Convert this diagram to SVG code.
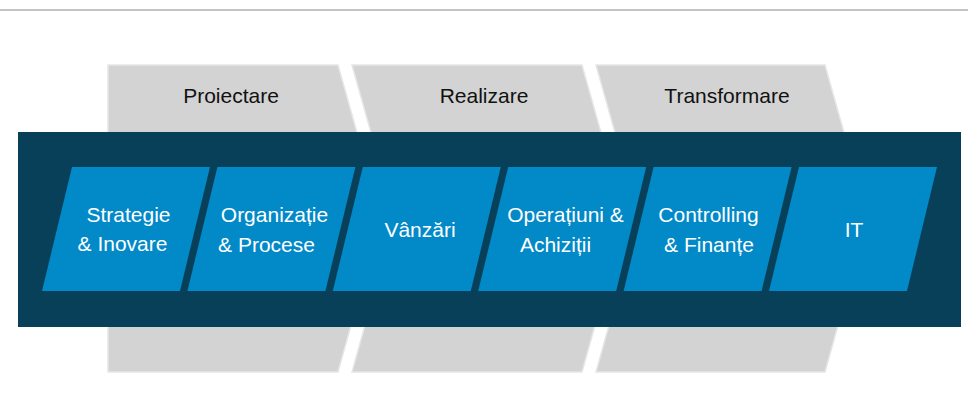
<svg xmlns="http://www.w3.org/2000/svg" width="968" height="420" viewBox="0 0 968 420">
<style>
.phase{fill:#d3d3d3;stroke:#e6e6e6;stroke-width:1.5}
.ptxt{font-family:"Liberation Sans",Arial,sans-serif;font-size:21px;fill:#111;text-anchor:middle}
.dom{fill:#0289c7}
.dtxt{font-family:"Liberation Sans",Arial,sans-serif;font-size:21px;fill:#fff;text-anchor:middle}
</style>
<rect width="968" height="420" fill="#fff"/>
<line x1="0" y1="10" x2="968" y2="10" stroke="#c4c4c4" stroke-width="2"/>
<g id="phase-proiectare">
<polygon class="phase" points="108,65 338,65 381,218 338,372 108,372"/>
<text class="ptxt" x="231" y="103">Proiectare</text>
</g>
<g id="phase-realizare">
<polygon class="phase" points="352,65 582,65 625,218 582,372 352,372 395,218"/>
<text class="ptxt" x="484" y="103">Realizare</text>
</g>
<g id="phase-transformare">
<polygon class="phase" points="596,65 825,65 868,218 825,372 596,372 639,218"/>
<text class="ptxt" x="727" y="103">Transformare</text>
</g>
<rect id="band" x="18" y="132" width="943" height="195" fill="#083f59"/>
<g id="strategie">
<polygon class="dom" points="72,167 210,167 180,291 42,291"/>
<text class="dtxt" x="128.5" y="222">Strategie</text>
<text class="dtxt" x="122.5" y="251">&amp; Inovare</text>
</g>
<g id="organizatie">
<polygon class="dom" points="217.4,167 355.4,167 325.4,291 187.4,291"/>
<text class="dtxt" x="274.5" y="222">Organizație</text>
<text class="dtxt" x="266.5" y="252">&amp; Procese</text>
</g>
<g id="vanzari">
<polygon class="dom" points="362.8,167 500.8,167 470.8,291 332.8,291"/>
<text class="dtxt" x="420" y="237">Vânzări</text>
</g>
<g id="operatiuni">
<polygon class="dom" points="508.2,167 646.2,167 616.2,291 478.2,291"/>
<text class="dtxt" x="565.5" y="222">Operațiuni &amp;</text>
<text class="dtxt" x="555.5" y="252">Achiziții</text>
</g>
<g id="controlling">
<polygon class="dom" points="653.6,167 791.6,167 761.6,291 623.6,291"/>
<text class="dtxt" x="708.5" y="222">Controlling</text>
<text class="dtxt" x="709" y="252">&amp; Finanțe</text>
</g>
<g id="it">
<polygon class="dom" points="799,167 937,167 907,291 769,291"/>
<text class="dtxt" x="854" y="237">IT</text>
</g>
<g id="connectors"></g>
</svg>
